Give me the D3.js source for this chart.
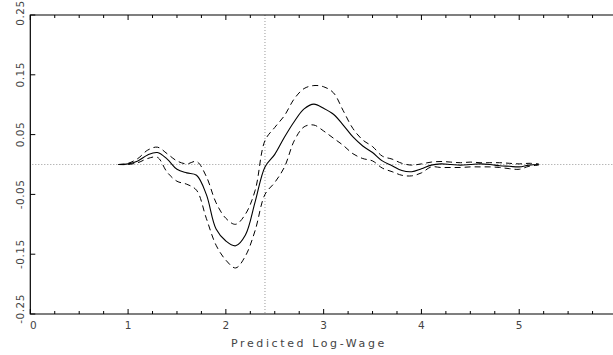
<!DOCTYPE html>
<html>
<head>
<meta charset="utf-8">
<script src="https://cdn.jsdelivr.net/npm/d3@7"></script>
<style>
  body { margin: 0; background: #fff; }
  text { font-family: "DejaVu Sans", sans-serif; fill: #444; }
</style>
</head>
<body>
<div id="mainDiv"></div>
<script>
// predicted log-wage grid
var logWage = [0.9, 1.0, 1.1, 1.2, 1.3, 1.4, 1.5, 1.6, 1.7, 1.8, 1.9, 2.0, 2.1, 2.2, 2.3, 2.4,
               2.5, 2.6, 2.7, 2.8, 2.9, 3.0, 3.1, 3.2, 3.3, 3.4, 3.5, 3.6, 3.7, 3.8, 3.9, 4.0,
               4.1, 4.2, 4.3, 4.4, 4.5, 4.6, 4.7, 4.8, 4.9, 5.0, 5.1, 5.2];
// estimate (solid)
var estimate = [0, 0.001, 0.006, 0.016, 0.020, 0.009, -0.008, -0.014, -0.018, -0.050, -0.108, -0.128,
                -0.136, -0.118, -0.062, -0.004, 0.017, 0.046, 0.072, 0.093, 0.101, 0.094, 0.084, 0.066,
                0.046, 0.031, 0.020, 0.006, -0.002, -0.010, -0.012, -0.007, -0.001, 0.001, 0.000, -0.001,
                0.000, 0.001, 0.000, -0.002, -0.003, -0.004, -0.001, 0.000];
// upper band (dashed)
var upper = [0, 0.002, 0.010, 0.024, 0.029, 0.018, 0.006, 0.001, 0.005, -0.020, -0.064, -0.090,
             -0.100, -0.083, -0.043, 0.040, 0.062, 0.082, 0.110, 0.127, 0.132, 0.130, 0.120, 0.090,
             0.060, 0.041, 0.030, 0.014, 0.009, 0.002, -0.001, 0.001, 0.004, 0.005, 0.004, 0.003,
             0.004, 0.003, 0.003, 0.003, 0.002, 0.001, 0.002, 0.001];
// lower band (dashed)
var lower = [0, 0.000, 0.003, 0.010, 0.012, -0.013, -0.028, -0.033, -0.043, -0.090, -0.135, -0.160,
             -0.173, -0.153, -0.110, -0.050, -0.030, -0.004, 0.040, 0.063, 0.066, 0.056, 0.044, 0.032,
             0.018, 0.010, 0.006, -0.006, -0.012, -0.018, -0.019, -0.014, -0.004, -0.005, -0.005, -0.005,
             -0.004, -0.004, -0.004, -0.005, -0.007, -0.008, -0.003, -0.001];
var yLabels = ["0.25", "0.15", "0.05", "-0.05", "-0.15", "-0.25"];
var xLabels = ["0", "1", "2", "3", "4", "5"];
var refX = 2.4;

var width = 613, height = 355;
var svg = d3.select("#mainDiv").append("svg").attr("width", width).attr("height", height);

var x = d3.scaleLinear().domain([0, 6]).range([30.3, 617]);
var y = d3.scaleLinear().domain([-0.25, 0.25]).range([314, 15]);

// reference lines
svg.append("line")
    .attr("x1", x(0) + 2).attr("x2", width)
    .attr("y1", y(0)).attr("y2", y(0))
    .attr("stroke", "#999").attr("stroke-dasharray", "1,2");
svg.append("line")
    .attr("x1", x(refX)).attr("x2", x(refX))
    .attr("y1", y(0.25)).attr("y2", y(-0.25))
    .attr("stroke", "#999").attr("stroke-dasharray", "1,2");

// frame
svg.append("path")
    .attr("d", "M" + width + "," + y(0.25) + "H" + x(0) + "V" + y(-0.25) + "H" + width)
    .attr("fill", "none").attr("stroke", "#000").attr("stroke-width", 1.2);

// ticks on bottom and top
var minor = d3.range(0, 6.01, 0.25);
minor.forEach(function(v) {
    var major = Math.abs(v - Math.round(v)) < 1e-6;
    var len = major ? 5 : 3;
    svg.append("line").attr("x1", x(v)).attr("x2", x(v))
        .attr("y1", y(-0.25)).attr("y2", y(-0.25) - len)
        .attr("stroke", "#000");
    svg.append("line").attr("x1", x(v)).attr("x2", x(v))
        .attr("y1", y(0.25)).attr("y2", y(0.25) + len)
        .attr("stroke", "#000");
});

// ticks and labels on left
yLabels.forEach(function(l) {
    var v = +l;
    svg.append("line").attr("x1", x(0)).attr("x2", x(0) + 5)
        .attr("y1", y(v)).attr("y2", y(v)).attr("stroke", "#000");
    var yy = y(v);
    if (v === 0.25) yy = 13;
    if (v === -0.25) yy = 309;
    svg.append("text")
        .attr("transform", "translate(24," + yy + ") rotate(-90)")
        .attr("text-anchor", "middle")
        .attr("font-size", 10.5)
        .attr("letter-spacing", 0.5)
        .text(l);
});

xLabels.forEach(function(l, i) {
    var xx = x(+l);
    if (i === 0) xx += 3;
    svg.append("text")
        .attr("x", xx).attr("y", 329)
        .attr("text-anchor", "middle")
        .attr("font-size", 10.5)
        .text(l);
});

svg.append("text")
    .attr("x", x(2.85)).attr("y", 347)
    .attr("text-anchor", "middle")
    .attr("font-size", 11)
    .attr("letter-spacing", 2.6)
    .text("Predicted Log-Wage");

// curves
var line = function(vals) {
    return d3.line()
        .x(function(d, i) { return x(logWage[i]); })
        .y(function(d) { return y(d); })
        .curve(d3.curveCatmullRom)(vals);
};

svg.append("path").attr("d", line(upper))
    .attr("fill", "none").attr("stroke", "#000").attr("stroke-dasharray", "6,4");
svg.append("path").attr("d", line(lower))
    .attr("fill", "none").attr("stroke", "#000").attr("stroke-dasharray", "6,4");
svg.append("path").attr("d", line(estimate))
    .attr("fill", "none").attr("stroke", "#000").attr("stroke-width", 1.1);
</script>
</body>
</html>
